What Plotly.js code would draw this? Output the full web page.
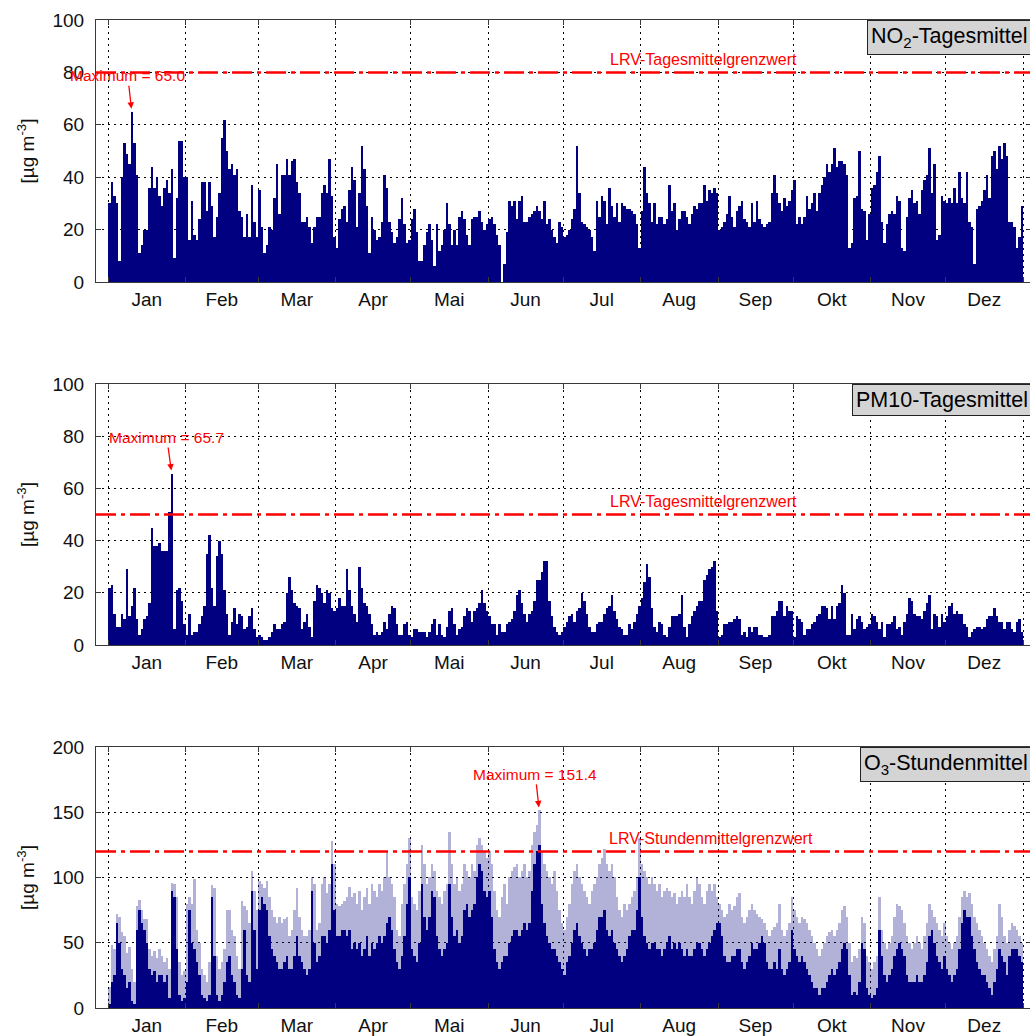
<!DOCTYPE html>
<html><head><meta charset="utf-8">
<script src="https://cdn.plot.ly/plotly-3.0.1.min.js"></script>
<style>html,body{margin:0;padding:0;overflow:hidden;background:#fff}#chart{width:1032px;height:1036px}</style>
</head><body><div id="chart"></div>
<script>
const MONTH_LABELS = ['Jan','Feb','Mar','Apr','Mai','Jun','Jul','Aug','Sep','Okt','Nov','Dez'];
const MONTH_START_DAYS = [0,31,60,91,121,152,182,213,244,274,305,335,366];

const NO2_DAILY = [
30,38,33,30,8,40,53,49,45,65,53,41,11,14,20,20,36,44,36,40,33,29,36,39,34,43,9,32,54,54,40,
40,16,31,18,16,24,38,38,27,38,29,17,25,34,55,62,50,43,45,41,43,27,25,17,26,17,37,23,17,
35,21,11,14,21,20,32,45,26,41,41,47,41,46,47,38,34,23,23,25,21,15,21,25,25,34,37,34,47,33,
17,13,24,28,29,23,35,44,39,21,
34,52,43,29,11,25,20,16,17,23,
41,36,23,19,15,17,24,32,22,15,
16,24,28,19,8,8,14,19,22,16,
6,22,12,14,20,30,22,14,20,14,
25,27,24,18,14,24,25,25,27,23,
20,22,24,25,22,18,14,0,7,19,31,29,
31,24,31,33,23,23,25,26,27,29,
27,24,31,22,24,20,17,15,23,21,
17,18,20,24,28,52,34,23,22,21,
20,17,12,31,25,33,31,22,36,29,
25,30,23,30,29,28,28,27,26,22,
13,27,44,34,30,23,30,22,25,25,
22,24,37,27,30,20,24,27,
27,25,22,26,29,28,30,30,37,31,
35,34,36,34,20,21,23,26,33,25,
21,27,29,31,24,23,21,30,23,31,
24,22,21,22,23,34,41,34,30,27,
32,29,31,35,39,22,25,22,25,33,
28,30,34,27,34,37,40,45,42,45,
51,44,46,46,45,41,13,15,32,33,
50,28,27,16,26,36,37,42,48,23,
15,22,26,27,26,33,31,13,12,25,
32,35,30,31,26,35,39,41,51,34,
45,16,18,33,31,30,32,30,36,30,
42,32,30,42,23,21,7,28,29,31,
35,41,32,48,50,43,52,47,53,48,
23,23,21,13,17,29
];

const PM10_DAILY = [
22,23,12,7,7,12,10,29,11,15,
22,10,4,6,10,11,16,45,38,38,
39,36,36,36,51,65.7,6,21,22,17,
8,4,12,4,5,5,8,11,15,35,
42,22,15,34,40,35,21,12,4,9,
14,8,12,11,6,7,11,14,6,3,
4,3,2,2,3,5,8,6,6,8,
9,20,26,21,16,15,14,6,9,12,
7,3,17,23,22,20,16,21,20,14,
13,14,18,15,15,29,21,
15,12,9,30,22,16,15,12,8,4,
5,4,5,9,6,12,15,14,8,4,
4,8,9,4,3,6,6,5,5,5,
3,5,8,10,4,8,4,3,7,13,
14,8,4,6,7,11,14,13,9,13,
14,16,21,16,13,11,8,8,4,8,
5,5,8,9,10,13,19,21,16,12,
9,12,13,17,25,25,28,32,32,17,
11,7,5,4,5,7,9,11,12,9,
13,14,20,17,12,7,5,5,8,9,
9,12,14,15,19,13,10,7,6,4,
4,8,6,9,12,15,18,24,31,26,
14,7,5,9,8,4,3,7,11,11,
11,12,
19,7,3,8,11,13,15,17,17,25,
27,29,30,32,13,3,4,8,8,9,
9,10,11,10,4,5,3,7,5,7,
7,4,4,3,3,4,11,11,13,17,
17,11,15,13,13,3,11,10,9,4,
6,6,8,9,11,12,15,15,14,10,
15,10,15,16,23,20,4,4,12,6,
10,11,9,6,7,8,12,11,9,6,
9,3,8,8,9,11,6,7,4,9,
12,18,17,12,11,11,10,13,16,19,
6,12,11,7,12,9,11,15,16,12,
13,12,12,8,7,3,5,6,7,7,
6,7,10,11,11,14,11,9,9,6,
9,9,6,5,9,10,5
];

// O3: daily peak of the hourly values and the level of the dense hourly fill
const O3_DAILY_PEAK = [
16,48,45,72,70,58,55,42,47,30,
20,78,83,75,68,68,45,40,44,38,
45,40,35,38,30,96,95,85,35,25,
28,80,85,80,99,60,50,30,25,20,
35,94,92,40,30,35,45,75,75,60,
55,40,30,82,78,75,65,105,90,75,
97,95,92,97,85,75,70,65,70,65,
68,70,55,60,75,92,70,60,55,55,
60,100,95,60,65,95,100,88,95,128,
110,80,78,80,82,85,93,
85,88,80,90,75,85,92,80,95,90,
85,95,90,100,120,100,95,85,60,55,
80,95,110,130,85,80,75,90,125,110,
95,100,110,105,90,85,80,90,95,135,
110,95,100,90,95,110,105,100,110,105,
125,130,125,120,115,120,110,90,75,70,
85,95,80,100,105,108,110,100,105,110,
100,105,125,135,140,151.4,120,110,105,100,
95,105,90,75,65,60,70,80,95,105,
110,100,95,90,85,80,90,95,100,110,
115,122,110,105,110,100,85,75,70,80,
75,80,85,90,100,130,110,105,100,95,
100,95,90,95,85,90,92,90,85,88,
80,85,
90,85,95,85,80,90,100,95,85,80,
90,95,90,95,85,80,75,70,72,80,
75,78,85,88,70,65,70,75,80,75,
72,70,68,65,60,55,60,62,65,80,
60,55,60,65,85,75,70,65,70,68,
65,60,55,50,45,40,45,50,55,58,
60,55,60,65,75,78,70,50,35,40,
38,45,70,65,40,35,30,35,40,85,
60,50,45,50,55,70,80,78,75,65,
55,50,45,50,55,50,45,55,65,80,
75,70,65,60,55,65,55,50,45,50,
55,70,85,90,85,88,80,70,65,60,
55,50,45,40,35,45,55,80,70,55,
50,60,65,63,60,55,50
];
const O3_DAILY_BULK = [
3,20,25,65,50,30,25,15,20,5,
3,60,75,65,60,50,30,25,28,20,
25,25,20,25,8,90,85,45,10,5,
8,20,75,50,45,35,25,10,8,5,
10,85,40,10,5,10,20,35,40,25,
20,10,8,30,60,25,20,90,60,30,
75,85,80,75,55,45,40,35,30,30,
35,40,30,30,40,55,40,35,30,25,
30,90,50,35,40,55,55,50,60,110,
75,55,55,60,60,55,60,
45,50,45,50,40,45,55,40,50,45,
50,55,50,55,65,70,60,45,35,30,
40,55,80,100,45,40,35,50,95,70,
60,70,90,85,55,45,40,45,50,95,
70,55,60,50,55,75,80,70,75,80,
100,110,105,90,85,90,70,45,35,30,
35,40,40,50,55,60,60,55,60,65,
60,65,90,110,120,125,80,65,55,50,
45,45,40,35,30,25,35,40,50,60,
65,55,50,45,40,45,45,50,60,70,
70,75,60,55,60,50,45,40,35,40,
45,55,60,60,75,100,70,55,50,45,
50,50,45,45,40,45,50,55,45,50,
45,50,
45,40,45,40,40,45,50,50,45,40,
45,50,55,60,65,65,55,40,35,35,
40,40,45,45,35,30,35,40,50,45,
45,50,55,50,35,30,30,35,30,45,
30,25,30,35,60,45,40,35,40,35,
30,25,20,15,15,10,15,15,20,25,
30,25,30,35,45,50,45,25,10,12,
10,20,50,45,15,10,8,10,15,60,
40,25,20,25,30,40,45,50,45,40,
25,20,20,20,25,20,20,25,35,55,
60,50,40,35,30,40,30,25,20,25,
30,45,65,75,70,70,55,45,35,30,
25,25,20,15,10,20,30,45,40,35,
25,40,45,45,45,40,35
];

const NO2_LIMIT = 80;
const PM10_LIMIT = 50;
const O3_LIMIT = 120;
const PANEL_TITLES = ['NO<sub>2</sub>-Tagesmittel','PM10-Tagesmittel','O<sub>3</sub>-Stundenmittel'];
const LIMIT_LABELS = ['LRV-Tagesmittelgrenzwert','LRV-Tagesmittelgrenzwert','LRV-Stundenmittelgrenzwert'];
const Y_TITLE = '[µg m<sup>-3</sup>]';

const NAVY = '#000080';
const RED = '#ff0000';
const FONT = 'Liberation Sans, Arial, sans-serif';

const monthMids = MONTH_LABELS.map((_, i) => (MONTH_START_DAYS[i] + MONTH_START_DAYS[i + 1]) / 2);
const dayCenters = arr => arr.map((_, i) => i + 0.5);

function xAxis(anchor) {
  return {
    anchor: anchor, domain: [0, 1], range: [-4.8, 369.6],
    tickmode: 'array', tickvals: monthMids, ticktext: MONTH_LABELS, ticks: '',
    showgrid: false, zeroline: false, showline: true, linecolor: '#3a3a3a', linewidth: 1,
    mirror: 'allticks', tickfont: {size: 19, color: '#111', family: FONT}, ticklabelstandoff: 0,
    minor: {tickmode: 'array', tickvals: MONTH_START_DAYS, ticks: 'inside', ticklen: 5,
            tickcolor: '#3a3a3a', showgrid: true, gridcolor: '#000', gridwidth: 1, griddash: '2px,4px'},
    fixedrange: true
  };
}
function yAxis(anchor, domain, maxV, step) {
  return {
    anchor: anchor, domain: domain, range: [0, maxV], tickmode: 'linear', tick0: 0, dtick: step,
    ticks: 'inside', ticklen: 5, tickcolor: '#3a3a3a', showline: true, linecolor: '#3a3a3a', linewidth: 1,
    mirror: 'allticks', showgrid: true, gridcolor: '#000', gridwidth: 1, griddash: '2px,4px', zeroline: false,
    tickfont: {size: 19, color: '#111', family: FONT}, ticklabelstandoff: 7,
    title: {text: Y_TITLE, font: {size: 19, color: '#111', family: FONT}, standoff: 12},
    fixedrange: true
  };
}

const traces = [
  {type: 'bar', x: dayCenters(NO2_DAILY), y: NO2_DAILY, width: 1, xaxis: 'x', yaxis: 'y',
   marker: {color: NAVY, line: {width: 0}}, hoverinfo: 'skip'},
  {type: 'bar', x: dayCenters(PM10_DAILY), y: PM10_DAILY, width: 1, xaxis: 'x2', yaxis: 'y2',
   marker: {color: NAVY, line: {width: 0}}, hoverinfo: 'skip'},
  {type: 'bar', x: dayCenters(O3_DAILY_PEAK), y: O3_DAILY_PEAK, width: 1, xaxis: 'x3', yaxis: 'y3',
   marker: {color: 'rgba(0,0,128,0.3)', line: {width: 0}}, hoverinfo: 'skip'},
  {type: 'bar', x: dayCenters(O3_DAILY_BULK), y: O3_DAILY_BULK, width: 1, xaxis: 'x3', yaxis: 'y3',
   marker: {color: NAVY, line: {width: 0}}, hoverinfo: 'skip'}
];

const panels = [
  {xa: 'x', ya: 'y', data: NO2_DAILY, limit: NO2_LIMIT, labelX: 238, maxAx: -4},
  {xa: 'x2', ya: 'y2', data: PM10_DAILY, limit: PM10_LIMIT, labelX: 238, maxAx: -5},
  {xa: 'x3', ya: 'y3', data: O3_DAILY_PEAK, limit: O3_LIMIT, labelX: 241, maxAx: -4}
];

const shapes = [];
const annotations = [];
panels.forEach((p, i) => {
  shapes.push({type: 'line', xref: p.xa + ' domain', yref: p.ya, x0: 0, x1: 1, y0: p.limit, y1: p.limit,
               line: {color: RED, width: 2.5, dash: '20px,5px,4px,5px'}, layer: 'above'});
  annotations.push({xref: p.xa, yref: p.ya, x: p.labelX, y: p.limit, yshift: 13, showarrow: false,
                    text: LIMIT_LABELS[i], font: {size: 16, color: RED, family: FONT}});
  const maxV = Math.max(...p.data);
  const idx = p.data.indexOf(maxV);
  annotations.push({xref: p.xa, yref: p.ya, x: idx + 0.5, y: maxV, showarrow: true, ax: p.maxAx, ay: -36,
                    arrowhead: 2, arrowsize: 1, arrowwidth: 1.3, arrowcolor: RED, standoff: 3,
                    text: 'Maximum = ' + maxV.toFixed(1), font: {size: 15.5, color: RED, family: FONT}});
  annotations.push({xref: p.xa + ' domain', yref: p.ya + ' domain', x: 1, y: 1, xanchor: 'right', yanchor: 'top',
                    showarrow: false, text: PANEL_TITLES[i], bgcolor: '#d4d4d4', bordercolor: '#222',
                    borderwidth: 1, borderpad: 3, font: {size: 21.5, color: '#000', family: FONT}});
});

const layout = {
  width: 1032, height: 1036, margin: {l: 96, r: 0, t: 20, b: 28},
  paper_bgcolor: '#fff', plot_bgcolor: '#fff', showlegend: false,
  barmode: 'overlay', bargap: 0,
  font: {family: FONT, color: '#111'},
  xaxis: xAxis('y'), xaxis2: xAxis('y2'), xaxis3: xAxis('y3'),
  yaxis: yAxis('x', [0.7348, 1], 100, 20),
  yaxis2: yAxis('x2', [0.3674, 0.6316], 100, 20),
  yaxis3: yAxis('x3', [0, 0.2642], 200, 50),
  shapes: shapes, annotations: annotations
};

Plotly.newPlot('chart', traces, layout, {displayModeBar: false, staticPlot: true});
</script>
</body></html>
